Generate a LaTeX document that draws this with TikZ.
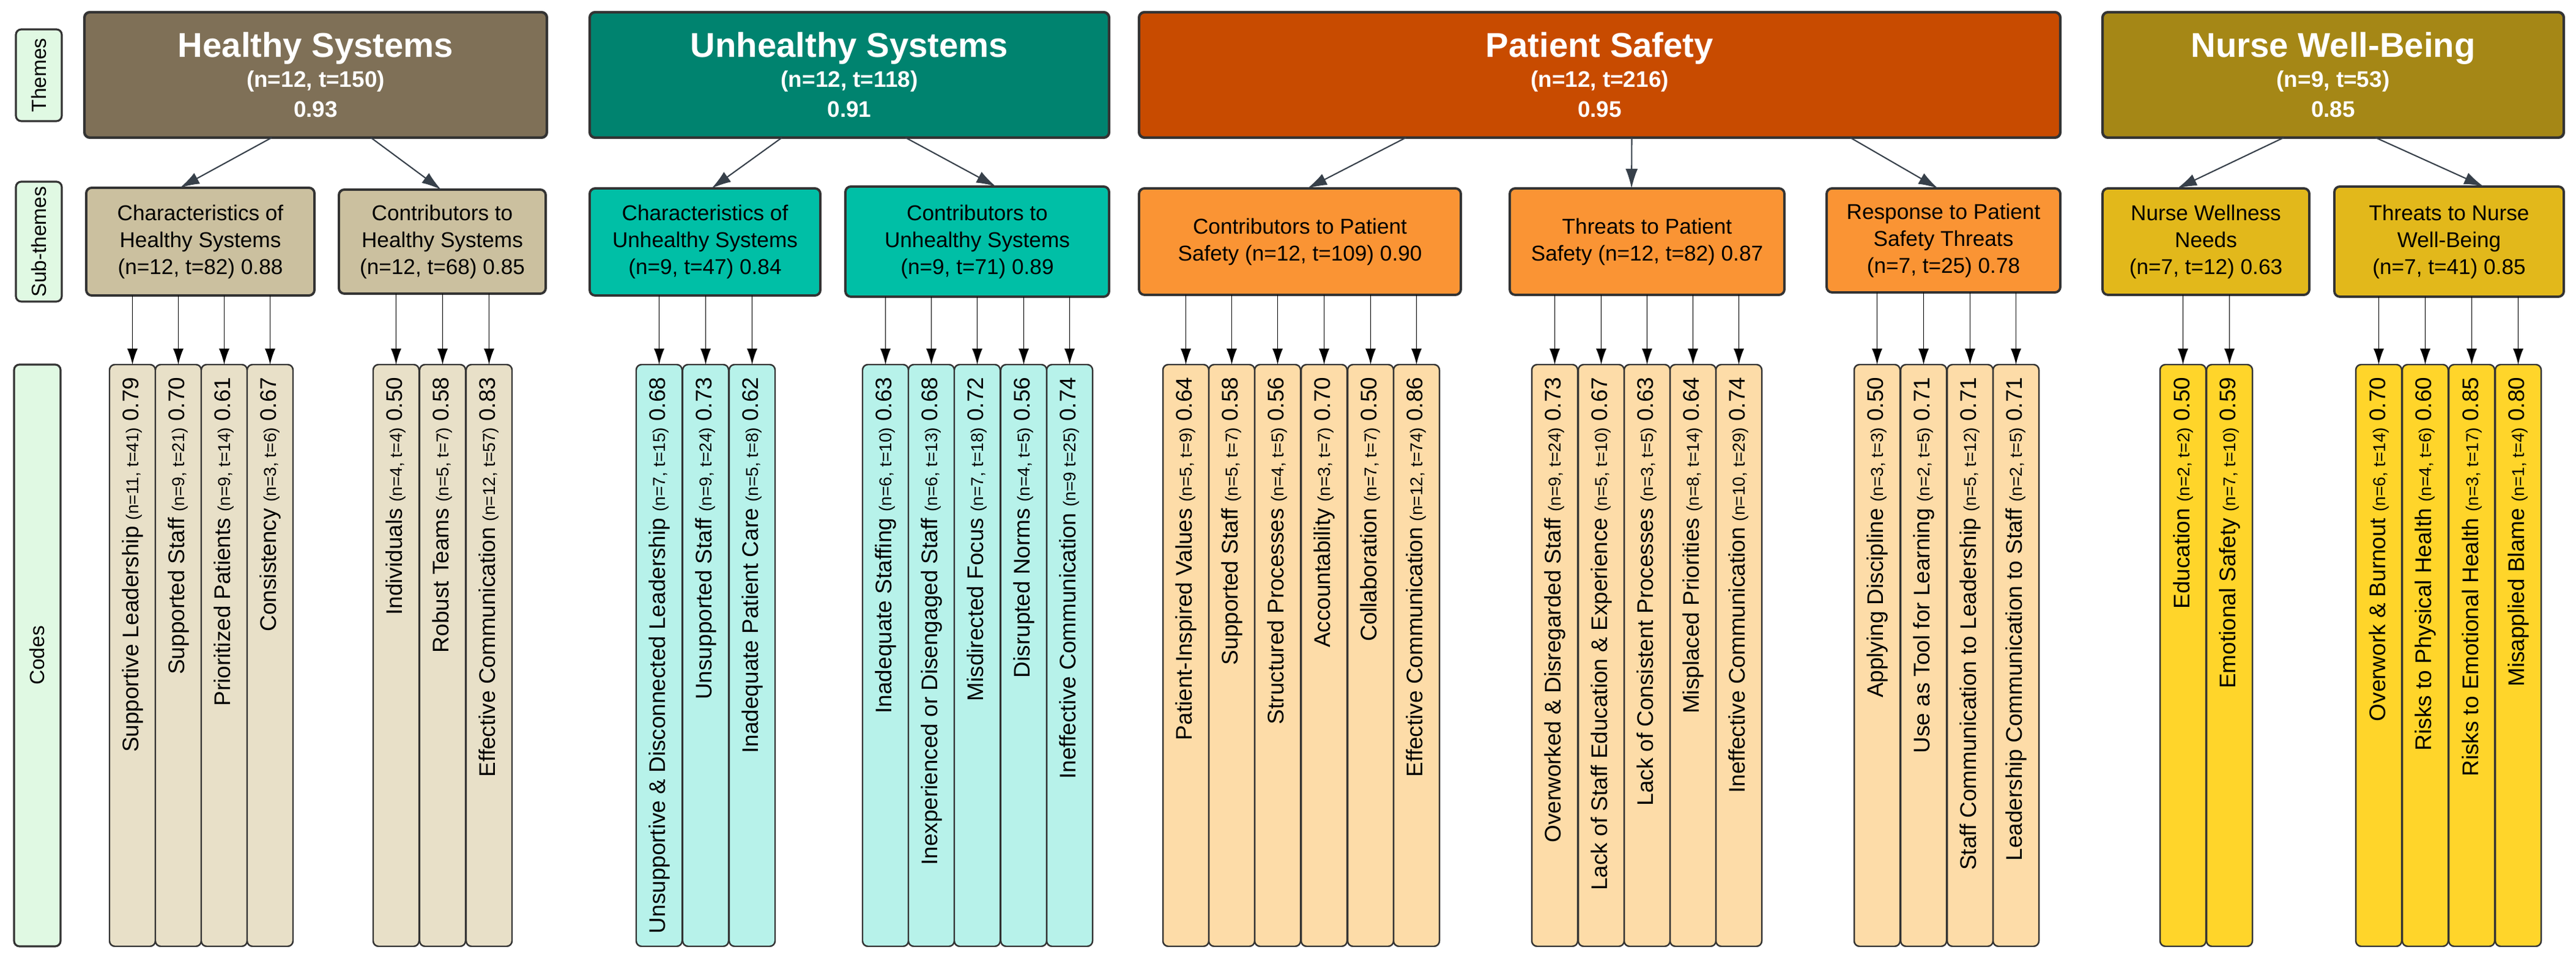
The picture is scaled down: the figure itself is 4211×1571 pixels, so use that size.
\documentclass[tikz,border=0pt]{standalone}
\usepackage{fontspec}
\setmainfont{Liberation Sans}
\usetikzlibrary{arrows.meta}
\definecolor{hsT}{HTML}{7F7057}\definecolor{hsS}{HTML}{CBC09F}\definecolor{hsC}{HTML}{E8E0C8}
\definecolor{usT}{HTML}{00836F}\definecolor{usS}{HTML}{00BFA6}\definecolor{usC}{HTML}{B7F2EA}
\definecolor{psT}{HTML}{C84B00}\definecolor{psS}{HTML}{FA9434}\definecolor{psC}{HTML}{FDDCA8}
\definecolor{nwT}{HTML}{A58716}\definecolor{nwS}{HTML}{E2B81B}\definecolor{nwC}{HTML}{FFD52A}
\definecolor{lblF}{HTML}{E0F9E3}\definecolor{edge}{HTML}{333333}\definecolor{arr}{HTML}{37404A}
\newcommand\sm[1]{{\fontsize{8}{9}\selectfont #1}}
\newcommand\boxnode[7]{\node[#6, minimum width={(#4-#2)*0.01cm}, minimum height={(#5-#3)*0.01cm}] (#1) at ({(#2+#4)/2},{(#3+#5)/2}) {#7};}
\tikzset{
 base/.style={draw=edge, rounded corners=2.5pt, inner sep=0pt, outer sep=0pt, align=center},
 theme/.style={base, line width=1.2pt, text=white, font=\fontsize{10.5}{14}\selectfont\bfseries},
 sub/.style={base, line width=1.1pt, text=black, font=\fontsize{10}{12.5}\selectfont},
 code/.style={base, line width=0.7pt},
 lbl/.style={base, line width=0.9pt, fill=lblF},
 lbltext/.style={rotate=90, font=\fontsize{9.5}{11}\selectfont},
 codetext/.style={rotate=90, anchor=east, inner sep=0pt, font=\fontsize{10.5}{12}\selectfont},
 tarrow/.style={draw=arr, line width=0.6pt, -{Latex[length=0.32cm,width=0.2cm]}},
 carrow/.style={draw=black, line width=0.5pt, -{Latex[length=0.26cm,width=0.17cm]}},
 title/.style={font=\fontsize{16}{20}\selectfont\bfseries}
}
\newcommand\codes[5]{% parent, prefix, fill, width, list
 \foreach \xa/\lab [count=\i] in {#5}{
  \boxnode{#2\i}{\xa}{596}{\xa+#4}{1547}{code, fill=#3}{}
  \node[codetext] (#2t\i) at ([yshift=-0.2cm]#2\i.north) {\lab};
  \draw[carrow] (#1.south -| #2\i.north) -- (#2\i.north);
 }}
\begin{document}
\begin{tikzpicture}[x=0.01cm,y=-0.01cm]
\useasboundingbox (0,0) rectangle (4211,1571);
% side labels
\boxnode{lt}{26}{48}{101}{198}{lbl}{}
\node[lbltext] at (lt) {Themes};
\boxnode{ls}{26}{297}{101}{493}{lbl}{}
\node[lbltext] at (ls) {Sub-themes};
\boxnode{lc}{23}{596}{99}{1547}{lbl}{}
\node[lbltext] at (lc) {Codes};
% themes
\boxnode{hs}{138}{20}{894}{225}{theme, fill=hsT}{{\fontsize{16}{20}\selectfont Healthy Systems}\\(n=12, t=150)\\0.93}
\boxnode{us}{964}{20}{1813}{225}{theme, fill=usT}{{\fontsize{16}{20}\selectfont Unhealthy Systems}\\(n=12, t=118)\\0.91}
\boxnode{ps}{1862}{20}{3368}{225}{theme, fill=psT}{{\fontsize{16}{20}\selectfont Patient Safety}\\(n=12, t=216)\\0.95}
\boxnode{nw}{3437}{20}{4191}{225}{theme, fill=nwT}{{\fontsize{16}{20}\selectfont Nurse Well-Being}\\(n=9, t=53)\\0.85}
% sub-themes
\boxnode{hs1}{141}{307}{514}{483}{sub, fill=hsS}{Characteristics of\\Healthy Systems\\(n=12, t=82) 0.88}
\boxnode{hs2}{554}{310}{892}{480}{sub, fill=hsS}{Contributors to\\Healthy Systems\\(n=12, t=68) 0.85}
\boxnode{us1}{964}{308}{1341}{483}{sub, fill=usS}{Characteristics of\\Unhealthy Systems\\(n=9, t=47) 0.84}
\boxnode{us2}{1382}{305}{1813}{485}{sub, fill=usS}{Contributors to\\Unhealthy Systems\\(n=9, t=71) 0.89}
\boxnode{ps1}{1862}{308}{2388}{482}{sub, fill=psS}{Contributors to Patient\\Safety (n=12, t=109) 0.90}
\boxnode{ps2}{2468}{308}{2917}{482}{sub, fill=psS}{Threats to Patient\\Safety (n=12, t=82) 0.87}
\boxnode{ps3}{2986}{308}{3368}{478}{sub, fill=psS}{Response to Patient\\Safety Threats\\(n=7, t=25) 0.78}
\boxnode{nw1}{3437}{308}{3775}{482}{sub, fill=nwS}{Nurse Wellness\\Needs\\(n=7, t=12) 0.63}
\boxnode{nw2}{3816}{305}{4191}{485}{sub, fill=nwS}{Threats to Nurse\\Well-Being\\(n=7, t=41) 0.85}
% theme -> sub-theme arrows
\draw[tarrow] ([xshift=3.06cm]hs.south west) -- ([xshift=1.53cm]hs1.north west);
\draw[tarrow] ([xshift=4.68cm]hs.south west) -- ([xshift=1.67cm]hs2.north west);
\draw[tarrow] ([xshift=3.14cm]us.south west) -- ([xshift=1.99cm]us1.north west);
\draw[tarrow] ([xshift=5.16cm]us.south west) -- ([xshift=2.46cm]us2.north west);
\draw[tarrow] ([xshift=4.36cm]ps.south west) -- ([xshift=2.75cm]ps1.north west);
\draw[tarrow] ([xshift=8.05cm]ps.south west) -- ([xshift=1.99cm]ps2.north west);
\draw[tarrow] ([xshift=11.62cm]ps.south west) -- ([xshift=1.82cm]ps3.north west);
\draw[tarrow] ([xshift=2.96cm]nw.south west) -- ([xshift=1.22cm]nw1.north west);
\draw[tarrow] ([xshift=4.46cm]nw.south west) -- ([xshift=2.44cm]nw2.north west);
% codes
\codes{hs1}{ca}{hsC}{75}{179/{Supportive Leadership \sm{(n=11, t=41)} 0.79},254/{Supported Staff \sm{(n=9, t=21)} 0.70},329/{Prioritized Patients \sm{(n=9, t=14)} 0.61},404/{Consistency \sm{(n=3, t=6)} 0.67}}
\codes{hs2}{cb}{hsC}{75}{610/{Individuals \sm{(n=4, t=4)} 0.50},686/{Robust Teams \sm{(n=5, t=7)} 0.58},762/{Effective Communication \sm{(n=12, t=57)} 0.83}}
\codes{us1}{cc}{usC}{75}{1040/{Unsupportive \& Disconnected Leadership \sm{(n=7, t=15)} 0.68},1116/{Unsupported Staff \sm{(n=9, t=24)} 0.73},1192/{Inadequate Patient Care \sm{(n=5, t=8)} 0.62}}
\codes{us2}{cd}{usC}{75}{1410/{Inadequate Staffing \sm{(n=6, t=10)} 0.63},1485/{Inexperienced or Disengaged Staff \sm{(n=6, t=13)} 0.68},1560/{Misdirected Focus \sm{(n=7, t=18)} 0.72},1636/{Disrupted Norms \sm{(n=4, t=5)} 0.56},1711/{Ineffective Communication \sm{(n=9 t=25)} 0.74}}
\codes{ps1}{ce}{psC}{75}{1901/{Patient-Inspired Values \sm{(n=5, t=9)} 0.64},1976/{Supported Staff \sm{(n=5, t=7)} 0.58},2051/{Structured Processes \sm{(n=4, t=5)} 0.56},2127/{Accountability \sm{(n=3, t=7)} 0.70},2203/{Collaboration \sm{(n=7, t=7)} 0.50},2278/{Effective Communication \sm{(n=12, t=74)} 0.86}}
\codes{ps2}{cf}{psC}{75}{2504/{Overworked \& Disregarded Staff \sm{(n=9, t=24)} 0.73},2580/{Lack of Staff Education \& Experience \sm{(n=5, t=10)} 0.67},2655/{Lack of Consistent Processes \sm{(n=3, t=5)} 0.63},2730/{Misplaced Priorities \sm{(n=8, t=14)} 0.64},2805/{Ineffective Communication \sm{(n=10, t=29)} 0.74}}
\codes{ps3}{cg}{psC}{75}{3031/{Applying Discipline \sm{(n=3, t=3)} 0.50},3107/{Use as Tool for Learning \sm{(n=2, t=5)} 0.71},3183/{Staff Communication to Leadership \sm{(n=5, t=12)} 0.71},3258/{Leadership Communication to Staff \sm{(n=2, t=5)} 0.71}}
\codes{nw1}{ch}{nwC}{75}{3531/{Education \sm{(n=2, t=2)} 0.50},3607/{Emotional Safety \sm{(n=7, t=10)} 0.59}}
\codes{nw2}{ci}{nwC}{75}{3851/{Overwork \& Burnout \sm{(n=6, t=14)} 0.70},3927/{Risks to Physical Health \sm{(n=4, t=6)} 0.60},4003/{Risks to Emotional Health \sm{(n=3, t=17)} 0.85},4079/{Misapplied Blame \sm{(n=1, t=4)} 0.80}}
\end{tikzpicture}
\end{document}
